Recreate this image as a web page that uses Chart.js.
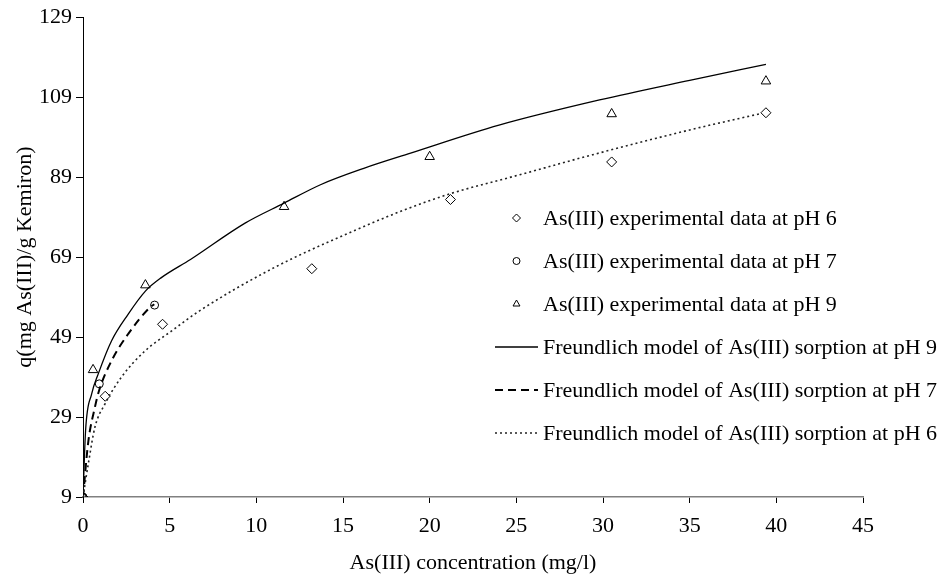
<!DOCTYPE html>
<html>
<head>
<meta charset="utf-8">
<script src="https://cdn.jsdelivr.net/npm/chart.js@4/dist/chart.umd.min.js"></script>
<style>
  html, body { margin: 0; padding: 0; background: #ffffff; }
  #wrap { width: 940px; height: 579px; position: relative; }
</style>
</head>
<body>
<div id="wrap"><canvas id="chart"></canvas></div>
<script>
// Axis ticks
const xTickValues = [0, 5, 10, 15, 20, 25, 30, 35, 40, 45];
const yTickValues = [9, 29, 49, 69, 89, 109, 129];

// Experimental sorption data: concentration (mg/l) and uptake q
const expConcPH6 = [0, 1.28, 4.59, 13.2, 21.2, 30.5, 39.4];
const expQPH6    = [9, 34.2, 52.2, 66.1, 83.4, 92.8, 105.1];

const expConcPH7 = [0, 0.94, 4.13];
const expQPH7    = [9, 37.3, 57.0];

const expConcPH9 = [0, 0.58, 3.6, 11.6, 20.0, 30.5, 39.4];
const expQPH9    = [9, 40.8, 62.0, 81.6, 94.1, 104.8, 113.0];

// Freundlich model curves
const modelConcPH9 = [0, 0.15, 0.5, 0.88, 1.65, 2.6, 3.6, 4.5, 6.2, 9.35, 11.6, 13.7, 16.2, 18.9, 24.0, 29.8, 35.0, 39.4];
const modelQPH9    = [9, 25.7, 34.8, 39.8, 48.1, 54.7, 60.5, 63.8, 68.4, 77.5, 82.5, 87.1, 91.2, 95.0, 102.0, 108.3, 113.2, 117.2];

const modelConcPH7 = [0, 0.31, 0.69, 0.92, 1.65, 2.61, 3.86, 4.11];
const modelQPH7    = [9, 23.0, 31.5, 35.5, 43.1, 49.8, 56.4, 57.2];

const modelConcPH6 = [0, 0.31, 0.69, 1.27, 2.22, 3.57, 5.1, 6.7, 11.0, 15.8, 18.6, 21.3, 25.2, 29.4, 35.0, 39.1];
const modelQPH6    = [9, 17.4, 26.5, 32.3, 39.0, 45.5, 50.5, 55.5, 66.3, 75.9, 80.9, 85.0, 89.6, 94.6, 100.8, 104.9];

// Legend labels
const legendLabels = [
  'As(III) experimental data at pH 6',
  'As(III) experimental data at pH 7',
  'As(III) experimental data at pH 9',
  'Freundlich model of As(III) sorption at pH 9',
  'Freundlich model of As(III) sorption at pH 7',
  'Freundlich model of As(III) sorption at pH 6'
];

const pairs = (xs, ys) => xs.map((x, i) => ({ x: x, y: ys[i] }));
const FONT = 'Liberation Serif, Times New Roman, serif';

const lineBase = {
  showLine: true,
  pointRadius: 0,
  pointHoverRadius: 0,
  fill: false,
  cubicInterpolationMode: 'monotone'
};
const markBase = {
  showLine: false,
  borderColor: '#000000',
  backgroundColor: 'rgba(255,255,255,0)',
  borderWidth: 1,
  pointHoverRadius: 5
};

const datasets = [
  Object.assign({}, lineBase, {
    label: legendLabels[5], data: pairs(modelConcPH6, modelQPH6),
    borderColor: '#222222', borderWidth: 1.6, borderDash: [2, 3]
  }),
  Object.assign({}, lineBase, {
    label: legendLabels[4], data: pairs(modelConcPH7, modelQPH7),
    borderColor: '#000000', borderWidth: 2, borderDash: [8, 5]
  }),
  Object.assign({}, lineBase, {
    label: legendLabels[3], data: pairs(modelConcPH9, modelQPH9),
    borderColor: '#000000', borderWidth: 1.3
  }),
  Object.assign({}, markBase, {
    label: legendLabels[0], data: pairs(expConcPH6, expQPH6),
    pointStyle: 'rectRot', pointRadius: 5
  }),
  Object.assign({}, markBase, {
    label: legendLabels[1], data: pairs(expConcPH7, expQPH7),
    pointStyle: 'circle', pointRadius: 4
  }),
  Object.assign({}, markBase, {
    label: legendLabels[2], data: pairs(expConcPH9, expQPH9),
    pointStyle: 'triangle', pointRadius: 5.5
  })
];

// Legend drawn inside the plot, lower right
const legendRows = [
  { text: legendLabels[0], kind: 'mark', style: 'rectRot', r: 4 },
  { text: legendLabels[1], kind: 'mark', style: 'circle', r: 3.5 },
  { text: legendLabels[2], kind: 'mark', style: 'triangle', r: 4 },
  { text: legendLabels[3], kind: 'line', dash: [], width: 1.3, color: '#000000' },
  { text: legendLabels[4], kind: 'line', dash: [8, 5], width: 2, color: '#000000' },
  { text: legendLabels[5], kind: 'line', dash: [2, 3], width: 1.6, color: '#222222' }
];
const insideLegend = {
  id: 'insideLegend',
  afterDraw(chart) {
    const ctx = chart.ctx;
    const rowY = [218, 261, 304, 347, 390, 433];
    ctx.save();
    ctx.font = '22px ' + FONT;
    ctx.fillStyle = '#000000';
    ctx.textBaseline = 'middle';
    ctx.textAlign = 'left';
    legendRows.forEach((row, i) => {
      const y = rowY[i];
      if (row.kind === 'mark') {
        ctx.save();
        ctx.strokeStyle = '#000000';
        ctx.fillStyle = 'rgba(255,255,255,0)';
        ctx.lineWidth = 1;
        Chart.helpers.drawPoint(ctx, { pointStyle: row.style, radius: row.r, borderWidth: 1 }, 516.5, y);
        ctx.restore();
      } else {
        ctx.save();
        ctx.strokeStyle = row.color;
        ctx.lineWidth = row.width;
        ctx.setLineDash(row.dash);
        ctx.beginPath();
        ctx.moveTo(495, y);
        ctx.lineTo(538, y);
        ctx.stroke();
        ctx.restore();
      }
      ctx.fillText(row.text, 543, y + 1);
    });
    ctx.restore();
  }
};

new Chart(document.getElementById('chart'), {
  type: 'scatter',
  data: { datasets: datasets },
  options: {
    responsive: true,
    maintainAspectRatio: false,
    animation: false,
    layout: { padding: { top: 15, right: 77, left: 0, bottom: 0 } },
    plugins: {
      legend: { display: false },
      tooltip: { enabled: true }
    },
    scales: {
      x: {
        type: 'linear',
        min: xTickValues[0],
        max: xTickValues[xTickValues.length - 1],
        afterBuildTicks(scale) { scale.ticks = xTickValues.map(v => ({ value: v })); },
        afterFit(scale) { scale.height = 82; },
        border: { display: true, color: '#808080', width: 1.6 },
        grid: { drawOnChartArea: false, drawTicks: true, tickLength: 6, color: '#000000' },
        ticks: { color: '#000000', padding: 10, font: { family: FONT, size: 22 }, maxRotation: 0 },
        title: {
          display: true,
          text: 'As(III) concentration (mg/l)',
          color: '#000000',
          font: { family: FONT, size: 22 },
          padding: { top: 0, bottom: 3 }
        }
      },
      y: {
        type: 'linear',
        min: yTickValues[0],
        max: yTickValues[yTickValues.length - 1],
        afterBuildTicks(scale) { scale.ticks = yTickValues.map(v => ({ value: v })); },
        afterFit(scale) { scale.width = 83; },
        border: { display: true, color: '#000000', width: 1 },
        grid: { drawOnChartArea: false, drawTicks: true, tickLength: 7, color: '#000000' },
        ticks: { color: '#000000', padding: 4, font: { family: FONT, size: 22 } },
        title: {
          display: true,
          text: 'q(mg As(III)/g Kemiron)',
          color: '#000000',
          font: { family: FONT, size: 22 },
          padding: { top: 12, bottom: 0 }
        }
      }
    }
  },
  plugins: [insideLegend]
});
</script>
</body>
</html>
